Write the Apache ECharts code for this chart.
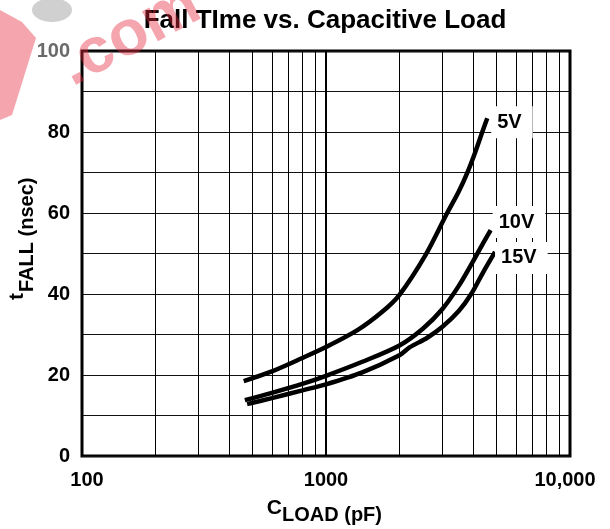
<!DOCTYPE html>
<html>
<head>
<meta charset="utf-8">
<script src="https://cdn.jsdelivr.net/npm/echarts@6/dist/echarts.min.js"></script>
<style>html,body{margin:0;padding:0;background:#fff}#c{width:610px;height:529px}</style>
</head>
<body>
<div id="c"></div>
<script>
// ---- data ----
const xMinorLines = [200, 300, 400, 500, 600, 700, 800, 900, 2000, 3000, 4000, 5000, 6000, 7000, 8000, 9000];
const xTickLabels = {100: '{lo|100}', 1000: '1000', 10000: '{hi|10,000}'};
const yTickLabels = [0, 20, 40, 60, 80, 100];

const c5V  = [460, 600, 800, 1000, 1340, 1700, 2000, 2557, 3126, 3500, 3815, 4100, 4370, 4580];
const t5V  = [18.5, 20.9, 24.2, 26.9, 31.0, 35.6, 39.8, 49.6, 59.8, 65.3, 70.3, 75.2, 80.0, 83.4];

const c10V = [465, 600, 800, 1000, 1400, 2000, 2500, 3000, 3500, 4000, 4400, 4730];
const t10V = [13.8, 15.6, 17.8, 19.8, 23.2, 27.3, 31.5, 36.3, 42.0, 48.0, 52.5, 55.8];

const c15V = [475, 600, 800, 1000, 1400, 2000, 2200, 2600, 3000, 3500, 3936, 4400, 4930];
const t15V = [12.8, 14.3, 16.2, 17.7, 20.6, 24.9, 26.8, 29.2, 31.9, 35.8, 40.0, 45.3, 50.4];

const seriesNames = ['5V', '10V', '15V'];
const titleText = 'Fall TIme vs. Capacitive Load';
const xNameMain = 'C', xNameSub = 'LOAD (pF)';
const yNameMain = 't', yNameSub = 'FALL (nsec)';

const pair = (xs, ys) => xs.map((x, i) => [x, ys[i]]);
const FONT = '"Liberation Sans", Arial, Helvetica, sans-serif';

const chart = echarts.init(document.getElementById('c'), null, {renderer: 'canvas'});

function curve(name, data, offset) {
  return {
    name: name,
    type: 'line',
    data: data,
    smooth: 0.3,
    showSymbol: false,
    symbol: 'none',
    z: 5,
    lineStyle: {color: '#000', width: 4.5, cap: 'butt'},
    endLabel: {
      show: true,
      formatter: name,
      color: '#000',
      fontFamily: FONT,
      fontWeight: 'bold',
      fontSize: 20,
      backgroundColor: '#fff',
      padding: [8, 11, 4, 6],
      offset: offset
    },
    animation: false
  };
}

const tickFont = {fontFamily: FONT, fontWeight: 'bold', fontSize: 20, color: '#000'};
const nameFont = (size) => ({fontFamily: FONT, fontWeight: 'bold', fontSize: size, fill: '#000'});

chart.setOption({
  backgroundColor: '#fff',
  animation: false,
  title: {
    text: titleText,
    left: 320,
    textAlign: 'center',
    top: 3,
    textStyle: {fontFamily: FONT, fontWeight: 'bold', fontSize: 26, color: '#000'}
  },
  grid: {
    left: 82, right: 40, top: 51, bottom: 73,
    outerBoundsMode: 'none',
    containLabel: false,
    show: true, borderColor: '#000', borderWidth: 3, backgroundColor: 'transparent'
  },
  xAxis: {
    type: 'log',
    logBase: 10,
    min: 100,
    max: 10000,
    axisLine: {show: false},
    axisTick: {show: false},
    splitLine: {show: true, lineStyle: {color: '#000', width: 2}},
    axisLabel: Object.assign({
      margin: 14,
      formatter: v => xTickLabels[Math.round(v)] || '',
      rich: {
        lo: Object.assign({padding: [0, 0, 0, 10]}, tickFont),
        hi: Object.assign({padding: [0, 10, 0, 0]}, tickFont)
      }
    }, tickFont)
  },
  yAxis: {
    type: 'value',
    min: 0,
    max: 100,
    interval: 10,
    axisLine: {show: false},
    axisTick: {show: false},
    splitLine: {show: true, lineStyle: {color: '#111', width: 1}},
    axisLabel: Object.assign({
      margin: 12,
      formatter: v => v === 100 ? '{g|100}' : (yTickLabels.indexOf(v) >= 0 ? String(v) : ''),
      rich: {g: Object.assign({}, tickFont, {color: '#6a6a6a'})}
    }, tickFont)
  },
  series: [
    {
      name: 'minor',
      type: 'line',
      data: [],
      z: 1,
      silent: true,
      markLine: {
        silent: true,
        symbol: ['none', 'none'],
        label: {show: false},
        animation: false,
        lineStyle: {color: '#000', width: 1, type: 'solid'},
        data: xMinorLines.map(v => ({xAxis: v}))
      }
    },
    curve(seriesNames[0], pair(c5V, t5V), [-4, 4]),
    curve(seriesNames[1], pair(c10V, t10V), [-6, -8]),
    curve(seriesNames[2], pair(c15V, t15V), [-8, 6])
  ],
  graphic: [
    // x-axis name: C with subscript LOAD (pF)
    {type: 'text', x: 282, y: 508, silent: true,
     style: Object.assign({text: xNameMain, align: 'right', verticalAlign: 'middle'}, nameFont(21))},
    {type: 'text', x: 282, y: 515.5, silent: true,
     style: Object.assign({text: xNameSub, align: 'left', verticalAlign: 'middle'}, nameFont(20))},
    // y-axis name: t with subscript FALL (nsec), rotated
    {type: 'text', x: 17.5, y: 300, rotation: Math.PI / 2, silent: true,
     style: Object.assign({text: yNameMain, align: 'left', verticalAlign: 'middle'}, nameFont(21))},
    {type: 'text', x: 27.5, y: 292, rotation: Math.PI / 2, silent: true,
     style: Object.assign({text: yNameSub, align: 'left', verticalAlign: 'middle'}, nameFont(20))},
    // watermark remnants
    {
      type: 'ellipse',
      z: 99,
      silent: true,
      shape: {cx: 52, cy: 10, rx: 20, ry: 12},
      style: {fill: 'rgba(170,170,170,0.55)'}
    },
    {
      type: 'polygon',
      z: 100,
      silent: true,
      shape: {points: [[0, 10], [22, 22], [36, 38], [12, 115], [0, 120]]},
      style: {fill: 'rgba(230,40,60,0.42)'}
    },
    {
      type: 'text',
      z: 100,
      silent: true,
      x: 130, y: 36,
      rotation: 28 * Math.PI / 180,
      style: {
        text: '.com',
        fontFamily: FONT, fontWeight: 'bold', fontSize: 64,
        fill: 'rgba(230,40,60,0.42)',
        align: 'center', verticalAlign: 'middle'
      }
    }
  ]
});
</script>
</body>
</html>
